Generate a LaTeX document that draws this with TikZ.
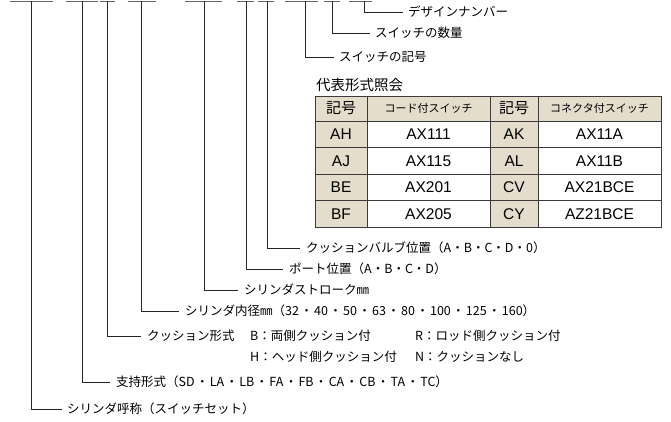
\documentclass[tikz,border=0pt]{standalone}
\usepackage{fontspec}
\setmainfont{Noto Sans CJK JP}
\newfontfamily\latf{Liberation Sans}
\definecolor{tan}{HTML}{E4DDCC}
\definecolor{grid}{HTML}{3A3A3A}
\newcommand{\sdot}{\hspace{1.3pt}・\hspace{1.3pt}}
\begin{document}
\begin{tikzpicture}[x=1pt,y=-1pt,
  ln/.style={line width=0.75pt, draw=black!85},
  lbl/.style={anchor=west, inner sep=0pt, font=\fontsize{12.5}{13}\selectfont},
  hd/.style={anchor=center, inner sep=0pt, font=\fontsize{15}{15}\selectfont},
  hds/.style={anchor=center, inner sep=0pt, font=\fontsize{11}{11}\selectfont},
  cell/.style={anchor=center, inner sep=0pt, font=\latf\fontsize{15.5}{15.5}\selectfont}]
\useasboundingbox (0,0) rectangle (671,421);
% top placeholder segments
\foreach \a/\b in {10/53,66/98,100/115,128/156,185/222,237/254,258/274,285/318,324/340,349/372}
  \draw[ln, line width=0.9pt, draw=black!60] (\a,1) -- (\b,1);
% corners and leader lines
\coordinate (c1) at (31,409);  \coordinate (e1) at (62,409);
\coordinate (c2) at (82,382);  \coordinate (e2) at (110,382);
\coordinate (c3) at (107,336); \coordinate (e3) at (141,336);
\coordinate (c4) at (141,311); \coordinate (e4) at (179,311);
\coordinate (c5) at (204,290); \coordinate (e5) at (238,290);
\coordinate (c6) at (246,269); \coordinate (e6) at (283,269);
\coordinate (c7) at (267,248); \coordinate (e7) at (300,248);
\coordinate (c8) at (305,57);  \coordinate (e8) at (334,57);
\coordinate (c9) at (332,33);  \coordinate (e9) at (370,33);
\coordinate (c10) at (364,12); \coordinate (e10) at (403,12);
\foreach \x/\i in {31/1,82/2,107/3,141/4,204/5,246/6,267/7,305/8,332/9,364/10}{
  \coordinate (t\i) at (\x,1);
  \draw[ln] (t\i) -- (c\i) -- (e\i);
}
\node[lbl] (l1) at ([xshift=5pt]e1) {シリンダ呼称（スイッチセット）};
\node[lbl] (l2) at ([xshift=6pt]e2) {支持形式（SD\sdot LA\sdot LB\sdot FA\sdot FB\sdot CA\sdot CB\sdot TA\sdot TC）};
\node[lbl] (l3) at ([xshift=6pt]e3) {クッション形式};
\node[lbl] (l3b) at (250,336) {B：両側クッション付};
\node[lbl] (l3c) at (415,336) {R：ロッド側クッション付};
\node[lbl] (l3d) at (250,357) {H：ヘッド側クッション付};
\node[lbl] (l3e) at (415,357) {N：クッションなし};
\node[lbl] (l4) at ([xshift=6pt]e4) {シリンダ内径㎜（32\sdot 40\sdot 50\sdot 63\sdot 80\sdot 100\sdot 125\sdot 160）};
\node[lbl] (l5) at ([xshift=6pt]e5) {シリンダストローク㎜};
\node[lbl] (l6) at ([xshift=6pt]e6) {ポート位置（A・B・C・D）};
\node[lbl] (l7) at ([xshift=6pt]e7) {クッションバルブ位置（A・B・C・D・0）};
\node[lbl] (l8) at ([xshift=5pt]e8) {スイッチの記号};
\node[lbl] (l9) at ([xshift=5pt]e9) {スイッチの数量};
\node[lbl] (l10) at ([xshift=5pt]e10) {デザインナンバー};
% table
\node[anchor=west, inner sep=0pt, font=\fontsize{14.5}{15}\selectfont] (title) at (316,85) {代表形式照会};
\fill[tan] (315,96) rectangle (661,121);
\foreach \r in {0,1,2,3}{
  \fill[tan] (315,{121+26.5*\r}) rectangle (367,{121+26.5*(\r+1)});
  \fill[tan] (490,{121+26.5*\r}) rectangle (538,{121+26.5*(\r+1)});
}
\draw[grid, line width=0.8pt] (315,96) rectangle (661,227);
\foreach \y in {121,147.5,174,200.5} \draw[grid, line width=0.8pt] (315,\y) -- (661,\y);
\foreach \x in {367,490,538} \draw[grid, line width=0.8pt] (\x,96) -- (\x,227);
\node[hd] (h1) at (341,108.5) {記号};
\node[hds] (h2) at (428.5,108.5) {コード付スイッチ};
\node[hd] (h3) at (514,108.5) {記号};
\node[hds] (h4) at (599.5,108.5) {コネクタ付スイッチ};
\foreach \k/\a/\b/\c/\d in {0/AH/AX111/AK/AX11A,1/AJ/AX115/AL/AX11B,2/BE/AX201/CV/AX21BCE,3/BF/AX205/CY/AZ21BCE}{
  \node[cell] at (341,{134.25+26.5*\k}) {\a};
  \node[cell] at (428.5,{134.25+26.5*\k}) {\b};
  \node[cell] at (514,{134.25+26.5*\k}) {\c};
  \node[cell] at (599.5,{134.25+26.5*\k}) {\d};
}
\end{tikzpicture}
\end{document}
